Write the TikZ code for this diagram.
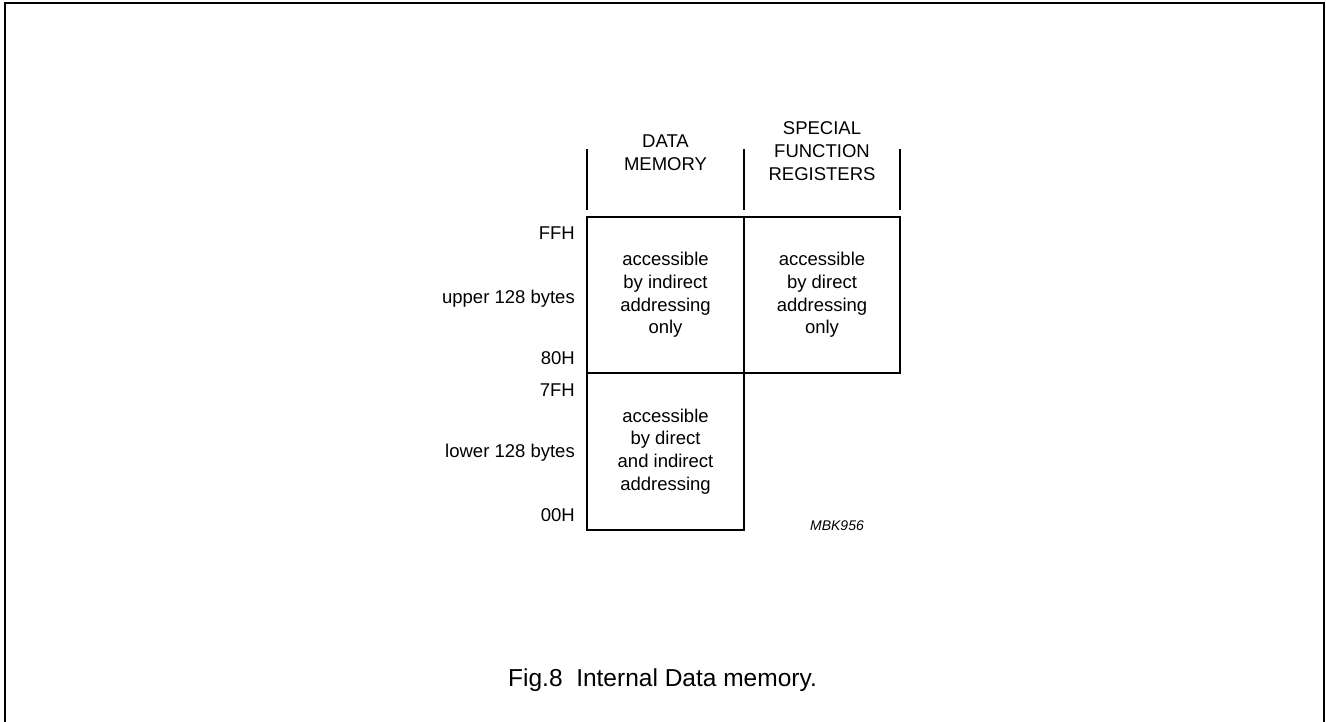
\documentclass[tikz,border=0pt]{standalone}
\usepackage{fontspec}
\setmainfont{Liberation Sans}
\usetikzlibrary{positioning}
\tikzstyle{cell}=[rectangle, draw, line width=2pt
,minimum width=156.5pt, minimum height=156.5pt
,outer sep=0pt, inner sep=0pt, align=center
,font=\fontsize{18.5}{22.7}\selectfont
]
\tikzstyle{addr}=[anchor=base east, inner sep=0pt, font=\fontsize{18.5}{22.7}\selectfont]
\tikzstyle{head}=[align=center, inner sep=0pt, font=\fontsize{18.5}{22.7}\selectfont]
\tikzstyle{rule} = [draw, line width=1.6pt]

\begin{document}
\begin{tikzpicture}[x=1pt,y=-1pt]
    \useasboundingbox (0,0) rectangle (1326,722);
    % Open frame round the figure
    \draw[line width=2pt] (4.5,722) -- (4.5,3.5) -- (1323.5,3.5) -- (1323.5,722);

    % The memory blocks
    \node[cell] (upper) at (665.5,295) {accessible\\by indirect\\addressing\\only};
    \node[cell, right=0pt of upper] (sfr) {accessible\\by direct\\addressing\\only};
    \node[cell, below=0pt of upper] (lower) {accessible\\by direct\\and indirect\\addressing};

    % Column headings and their separators
    \node[head] (dmhead) at (665.5,152.5) {DATA\\MEMORY};
    \node[head] (sfrhead) at (822,151) {SPECIAL\\FUNCTION\\REGISTERS};
    \foreach \corner in {upper.north west, upper.north east, sfr.north east}
        \path[rule] (\corner) ++(0,-7) -- ++(0,-61);

    % Address labels
    \foreach \ypos/\name/\txt in {239.5/ffh/FFH, 303.5/up/upper 128 bytes, 364.5/eightyh/80H, 396.5/sevenfh/7FH, 457.5/low/lower 128 bytes, 521.5/zeroh/00H}
        \node[addr] (\name) at (575,\ypos) {\txt};

    \node[font=\fontsize{14}{16}\selectfont\itshape] (code) at (837,526) {MBK956};
    \node[font=\fontsize{24.5}{28}\selectfont] (caption) at (662.5,680) {Fig.8\ \ Internal Data memory.};
\end{tikzpicture}
\end{document}
